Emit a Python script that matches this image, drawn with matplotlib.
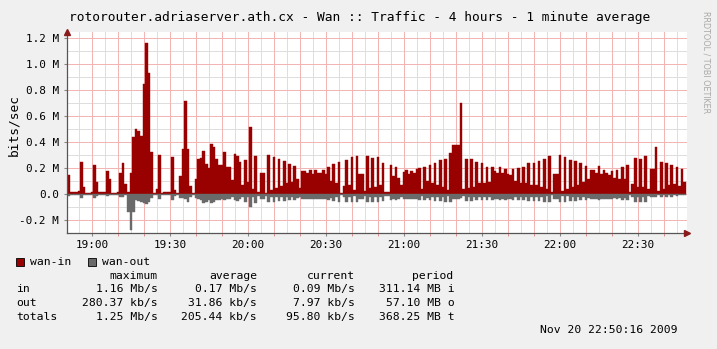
import numpy as np
import pandas as pd
import matplotlib
matplotlib.use("Agg")
from matplotlib import pyplot as plt
import matplotlib.dates as mdates
from matplotlib.patches import Rectangle

# traffic in Mbit/s, one value per minute, starting 18:50:24
wan_in = [
    0.146, 0.013, 0.013, 0.013, 0.020, 0.246, 0.050, 0.010, 0.010, 0.012,
    0.223, 0.092, 0.018, 0.013, 0.013, 0.177, 0.118, 0.010, 0.010, 0.012,
    0.164, 0.236, 0.077, 0.015, 0.159, 0.436, 0.503, 0.487, 0.446, 0.851,
    1.160, 0.933, 0.323, 0.005, 0.036, 0.297, 0.010, 0.013, 0.013, 0.013,
    0.287, 0.033, 0.010, 0.138, 0.344, 0.713, 0.344, 0.062, 0.010, 0.115,
    0.272, 0.277, 0.333, 0.231, 0.203, 0.385, 0.359, 0.272, 0.226, 0.221,
    0.323, 0.210, 0.205, 0.108, 0.305, 0.295, 0.246, 0.070, 0.262, 0.090,
    0.518, 0.036, 0.292, 0.018, 0.159, 0.159, 0.005, 0.300, 0.030, 0.282,
    0.044, 0.267, 0.062, 0.251, 0.082, 0.228, 0.095, 0.215, 0.113, 0.044,
    0.180, 0.177, 0.164, 0.185, 0.154, 0.185, 0.164, 0.159, 0.185, 0.154,
    0.210, 0.100, 0.231, 0.087, 0.244, 0.010, 0.064, 0.264, 0.069, 0.282,
    0.028, 0.290, 0.156, 0.156, 0.023, 0.292, 0.044, 0.280, 0.051, 0.287,
    0.072, 0.241, 0.015, 0.013, 0.220, 0.141, 0.208, 0.120, 0.067, 0.169,
    0.185, 0.154, 0.180, 0.159, 0.190, 0.197, 0.041, 0.210, 0.097, 0.223,
    0.087, 0.236, 0.069, 0.262, 0.051, 0.272, 0.031, 0.313, 0.374, 0.374,
    0.374, 0.705, 0.036, 0.269, 0.049, 0.269, 0.056, 0.246, 0.082, 0.241,
    0.087, 0.210, 0.095, 0.205, 0.175, 0.159, 0.208, 0.159, 0.195, 0.151,
    0.146, 0.192, 0.097, 0.203, 0.087, 0.205, 0.082, 0.236, 0.067, 0.236,
    0.067, 0.256, 0.051, 0.269, 0.036, 0.290, 0.018, 0.156, 0.156, 0.297,
    0.026, 0.287, 0.038, 0.264, 0.051, 0.254, 0.067, 0.236, 0.090, 0.213,
    0.118, 0.187, 0.187, 0.159, 0.213, 0.151, 0.187, 0.159, 0.146, 0.177,
    0.126, 0.182, 0.113, 0.205, 0.115, 0.221, 0.015, 0.080, 0.277, 0.056,
    0.272, 0.056, 0.292, 0.036, 0.195, 0.195, 0.359, 0.023, 0.246, 0.036,
    0.238, 0.067, 0.226, 0.077, 0.205, 0.062, 0.190, 0.090,
]

wan_out = [
    0.013, 0.005, 0.005, 0.005, 0.005, 0.030, 0.010, 0.005, 0.005, 0.005,
    0.030, 0.015, 0.010, 0.005, 0.005, 0.015, 0.010, 0.005, 0.005, 0.005,
    0.020, 0.025, 0.010, 0.135, 0.280, 0.140, 0.050, 0.055, 0.060, 0.070,
    0.075, 0.065, 0.030, 0.005, 0.010, 0.040, 0.005, 0.005, 0.005, 0.005,
    0.050, 0.015, 0.005, 0.030, 0.030, 0.040, 0.060, 0.020, 0.005, 0.030,
    0.040, 0.050, 0.070, 0.065, 0.050, 0.070, 0.060, 0.045, 0.050, 0.040,
    0.046, 0.035, 0.035, 0.020, 0.050, 0.055, 0.040, 0.020, 0.060, 0.025,
    0.097, 0.020, 0.067, 0.015, 0.038, 0.038, 0.015, 0.060, 0.020, 0.058,
    0.020, 0.055, 0.020, 0.055, 0.025, 0.050, 0.025, 0.050, 0.030, 0.020,
    0.040, 0.040, 0.038, 0.040, 0.038, 0.040, 0.038, 0.038, 0.040, 0.036,
    0.045, 0.030, 0.055, 0.025, 0.060, 0.010, 0.020, 0.060, 0.020, 0.060,
    0.015, 0.060, 0.035, 0.035, 0.015, 0.065, 0.020, 0.060, 0.020, 0.060,
    0.025, 0.055, 0.012, 0.012, 0.050, 0.040, 0.045, 0.035, 0.020, 0.040,
    0.040, 0.036, 0.040, 0.036, 0.040, 0.045, 0.015, 0.050, 0.030, 0.050,
    0.025, 0.055, 0.020, 0.055, 0.020, 0.060, 0.015, 0.060, 0.040, 0.040,
    0.040, 0.030, 0.015, 0.055, 0.020, 0.055, 0.020, 0.050, 0.025, 0.050,
    0.025, 0.045, 0.025, 0.045, 0.035, 0.035, 0.045, 0.035, 0.045, 0.035,
    0.035, 0.045, 0.025, 0.045, 0.025, 0.050, 0.020, 0.055, 0.020, 0.055,
    0.020, 0.055, 0.020, 0.060, 0.015, 0.060, 0.010, 0.035, 0.035, 0.060,
    0.015, 0.060, 0.015, 0.055, 0.020, 0.055, 0.020, 0.050, 0.025, 0.045,
    0.030, 0.040, 0.040, 0.035, 0.045, 0.035, 0.040, 0.035, 0.035, 0.040,
    0.030, 0.040, 0.030, 0.045, 0.030, 0.050, 0.010, 0.025, 0.060, 0.020,
    0.060, 0.020, 0.060, 0.015, 0.020, 0.020, 0.025, 0.010, 0.025, 0.010,
    0.020, 0.008, 0.020, 0.008, 0.015, 0.008, 0.010, 0.008,
]

y_ticks = [-0.2, 0.0, 0.2, 0.4, 0.6, 0.8, 1.0, 1.2]
y_labels = ["-0.2 M", "0.0", "0.2 M", "0.4 M", "0.6 M", "0.8 M", "1.0 M", "1.2 M"]

title = "rotorouter.adriaserver.ath.cx - Wan :: Traffic - 4 hours - 1 minute average"
headers = ["maximum", "average", "current", "period"]
rows = ["in", "out", "totals"]
maximum = ["1.16 Mb/s", "280.37 kb/s", "1.25 Mb/s"]
average = ["0.17 Mb/s", "31.86 kb/s", "205.44 kb/s"]
current = ["0.09 Mb/s", "7.97 kb/s", "95.80 kb/s"]
period = ["311.14 MB i", "57.10 MB o", "368.25 MB t"]
stamp = "Nov 20 22:50:16 2009"

IN_COL = "#990000"
OUT_COL = "#6a6a6a"
MAJOR = "#f3b4b4"
MINOR = "#dedede"
MONO = "DejaVu Sans Mono"
W, H = 717, 349

times = pd.date_range("2009-11-20 18:50:24", periods=len(wan_in), freq="1min")
step = pd.Timedelta(minutes=1) / pd.Timedelta(days=1)

fig = plt.figure(figsize=(W / 100, H / 100), dpi=100, facecolor="#f0f0f0")
ax = fig.add_axes([67.3 / W, 1 - 233.3 / H, (687 - 67.3) / W, (233.3 - 32.3) / H])
ax.set_facecolor("white")

x = mdates.date2num(times)
ax.bar(x, wan_in, width=step, align="edge", color=IN_COL, edgecolor=IN_COL, lw=0.3, zorder=3)
ax.bar(x, -np.array(wan_out), width=step, align="edge", color=OUT_COL, edgecolor=OUT_COL, lw=0.3, zorder=3)

x0 = x[0]
x1 = x0 + 238.4 * step
ax.set_xlim(x0, x1)
ax.set_ylim(-0.303, 1.246)

# grid: gray every 5 min / 0.1 M, red every 10 min / 0.2 M
for m in pd.date_range("2009-11-20 18:55", "2009-11-20 22:50", freq="5min"):
    v = mdates.date2num(m)
    major = m.minute % 10 == 0
    ax.axvline(v, color=MAJOR if major else MINOR, lw=0.72, zorder=2 if major else 1)
for v in np.arange(-0.3, 1.25, 0.1):
    major = round(v * 10) % 2 == 0
    ax.axhline(v, color=MAJOR if major else MINOR, lw=0.72, zorder=2 if major else 1)

ax.xaxis.set_major_locator(mdates.MinuteLocator(byminute=[0, 30]))
ax.xaxis.set_major_formatter(mdates.DateFormatter("%H:%M"))
ax.xaxis.set_minor_locator(mdates.MinuteLocator(byminute=range(0, 60, 10)))
ax.set_yticks(y_ticks)
ax.set_yticklabels(y_labels)
ax.tick_params(axis="both", labelsize=7.9, length=2, color="#888888", width=0.8)
ax.tick_params(axis="x", which="minor", length=2, color="#e08080")
ax.tick_params(axis="x", pad=3)
ax.tick_params(axis="y", pad=4)
for lab in ax.get_xticklabels() + ax.get_yticklabels():
    lab.set_family(MONO)

for s in ["top", "right"]:
    ax.spines[s].set_visible(False)
for s in ["left", "bottom"]:
    ax.spines[s].set_color("#555555")
    ax.spines[s].set_linewidth(0.9)
    ax.spines[s].set_zorder(5)

# axis arrows
ax.plot([0], [1.0], marker="^", color="#8b1a1a", ms=4, transform=ax.transAxes, clip_on=False, zorder=6)
ax.plot([1.0], [0], marker=">", color="#8b1a1a", ms=4, transform=ax.transAxes, clip_on=False, zorder=6)


def px(xp, yp):
    return xp / W, 1 - yp / H


fig.text(*px(359.5, 17), title, ha="center", va="center", fontsize=9.3, family=MONO)
fig.text(*px(14, 125), "bits/sec", rotation=90, ha="center", va="center", fontsize=9.3, family=MONO)
fig.text(*px(706, 62), "RRDTOOL / TOBI OETIKER", rotation=270, ha="center", va="center",
         fontsize=5.8, family="DejaVu Sans", color="#a8a8a8")

# legend
for bx, tx, col, name in [(16, 30, IN_COL, "wan-in"), (88, 102, OUT_COL, "wan-out")]:
    fig.add_artist(Rectangle(px(bx, 266), 8 / W, 8 / H, transform=fig.transFigure,
                             facecolor=col, edgecolor="black", lw=0.6))
    fig.text(*px(tx, 262), name, ha="left", va="center", fontsize=8.2, family=MONO)

col_right = [158, 257, 355, 455]
for cx, h in zip(col_right, headers):
    fig.text(*px(cx if h != "period" else 453, 276), h, ha="right", va="center", fontsize=8.2, family=MONO)
for i, r in enumerate(rows):
    yy = [289, 303, 317][i]
    fig.text(*px(16, yy), r, ha="left", va="center", fontsize=8.2, family=MONO)
    for cx, vals in zip(col_right, [maximum, average, current, period]):
        fig.text(*px(cx, yy), vals[i], ha="right", va="center", fontsize=8.2, family=MONO)
fig.text(*px(677, 330), stamp, ha="right", va="center", fontsize=8.2, family=MONO)

plt.savefig("out.png", dpi=100, facecolor=fig.get_facecolor())
